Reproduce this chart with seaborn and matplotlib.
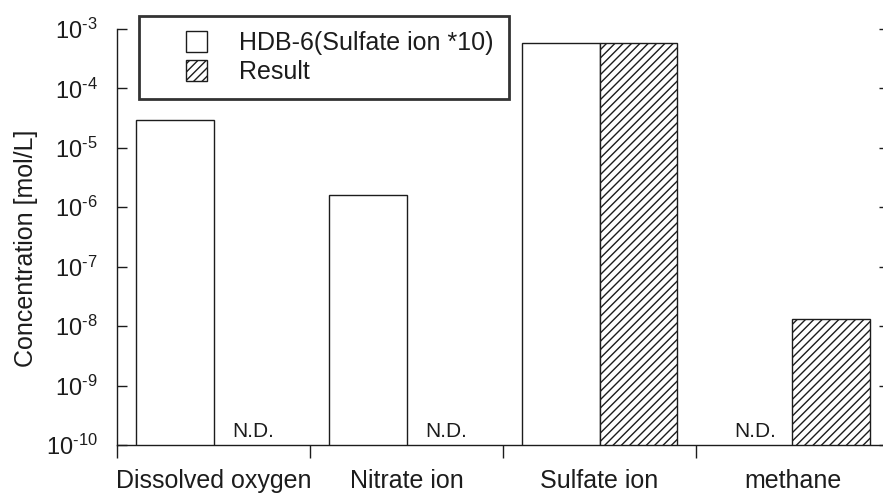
import numpy as np
import pandas as pd
import matplotlib
matplotlib.use("Agg")
import matplotlib.pyplot as plt
import seaborn as sns
from matplotlib.patches import Patch, Rectangle
from matplotlib.legend_handler import HandlerPatch
from matplotlib.ticker import FixedLocator, NullLocator, FuncFormatter

# Measured concentrations [mol/L]; NaN marks "not detected"
categories = ["Dissolved oxygen", "Nitrate ion", "Sulfate ion", "methane"]
series = ["HDB-6(Sulfate ion *10)", "Result"]
hdb6_values = [3.0e-5, 1.6e-6, 5.9e-4, np.nan]
result_values = [np.nan, np.nan, 5.8e-4, 1.3e-8]
y_ticks = [1e-10, 1e-9, 1e-8, 1e-7, 1e-6, 1e-5, 1e-4, 1e-3]
nd_label = "N.D."
y_label = "Concentration [mol/L]"

sns.set_theme(style="ticks")
plt.rcParams["font.family"] = ["Liberation Sans", "DejaVu Sans"]
plt.rcParams["mathtext.fontset"] = "custom"
plt.rcParams["mathtext.rm"] = "Liberation Sans"
plt.rcParams["mathtext.it"] = "Liberation Sans:italic"
plt.rcParams["mathtext.bf"] = "Liberation Sans:bold"
plt.rcParams["hatch.linewidth"] = 1.0
plt.rcParams["hatch.color"] = "black"

ink = "#1c1c1c"
hatch = "////"

df = pd.DataFrame({
    "category": categories * 2,
    "series": [series[0]] * len(categories) + [series[1]] * len(categories),
    "value": hdb6_values + result_values,
})

W, H = 883, 498
fig = plt.figure(figsize=(W / 100, H / 100), dpi=100)
ax = fig.add_axes([117 / W, 53 / H, 772 / W, 416 / H])
ax.set_yscale("log")

sns.barplot(
    data=df, x="category", y="value", hue="series",
    order=categories, hue_order=series,
    palette=["white", "white"], saturation=1,
    edgecolor=ink, linewidth=1.0, width=0.8,
    errorbar=None, legend=False, ax=ax,
)

# Hatch the "Result" bars
for bar in ax.containers[1]:
    bar.set_hatch(hatch)

ax.set_ylim(1e-10, 1e-3)
ax.set_xlim(-0.5, len(categories) - 0.5)

# N.D. labels where no value was detected
bar_w = 0.4
for j, vals in enumerate([hdb6_values, result_values]):
    for i, v in enumerate(vals):
        if np.isnan(v):
            x = i + (j - 0.5) * bar_w
            ax.annotate(nd_label, xy=(x, 1e-10), xytext=(1, 6),
                        textcoords="offset points", ha="center",
                        va="baseline", fontsize=15, color=ink)


def decade_label(v, pos):
    exp = int(round(np.log10(v)))
    sign = r"\text{-}" if exp < 0 else ""
    return r"$\mathregular{10^{%s%d}}$" % (sign, abs(exp))


# Axes styling
ax.yaxis.set_major_locator(FixedLocator(y_ticks))
ax.yaxis.set_major_formatter(FuncFormatter(decade_label))
ax.yaxis.set_minor_locator(NullLocator())
ax.tick_params(axis="y", which="major", direction="in", length=7, width=1,
               left=True, right=True, labelsize=17, pad=14,
               colors=ink)
ax.xaxis.set_minor_locator(FixedLocator(np.arange(-0.5, len(categories), 1.0)))
ax.tick_params(axis="x", which="major", length=0, labelsize=18, pad=17,
               colors=ink)
ax.tick_params(axis="x", which="minor", direction="out", length=9.5,
               width=1, color=ink)
ax.set_xlabel("")
ax.set_ylabel(y_label, fontsize=18, color=ink)
ax.yaxis.set_label_coords(-0.102, 0.474)

for side in ["left", "bottom", "right"]:
    ax.spines[side].set_color(ink)
    ax.spines[side].set_linewidth(1.0)
ax.spines["top"].set_visible(False)


def square_right(legend, orig_handle, xdescent, ydescent, width, height, fontsize):
    return Rectangle((-xdescent + width - height, -ydescent), height, height)


handles = [
    Patch(facecolor="white", edgecolor=ink, linewidth=1.0),
    Patch(facecolor="white", edgecolor=ink, linewidth=1.0, hatch=hatch),
]
leg = ax.legend(
    handles, series, loc="upper left",
    bbox_to_anchor=(139 / W, 1 - 16 / H), bbox_transform=fig.transFigure,
    borderaxespad=0, fontsize=18, frameon=True, fancybox=False,
    handlelength=2.12, handleheight=0.92, handletextpad=1.28,
    labelspacing=0.2, borderpad=0.6,
    handler_map={Patch: HandlerPatch(patch_func=square_right)},
)
leg.get_frame().set_edgecolor("black")
leg.get_frame().set_linewidth(2.0)
for t in leg.get_texts():
    t.set_color(ink)

fig.savefig("out.png", dpi=100)
